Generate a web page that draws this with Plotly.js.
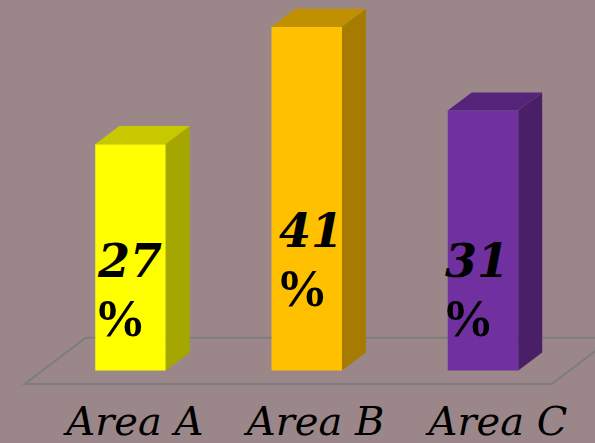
<!DOCTYPE html>
<html>
<head>
<meta charset="utf-8">
<script src="https://cdn.plot.ly/plotly-3.0.1.min.js"></script>
<style>html,body{margin:0;padding:0;background:#9b8789;overflow:hidden}</style>
</head>
<body>
<div id="chart" style="width:595px;height:443px"></div>
<script>
// Share of each area, in percent
const categories = ['Area A', 'Area B', 'Area C'];
const shares = [27, 41, 31];

// Face colours of each column: front, side, top
const frontColors = ['#ffff00', '#ffc000', '#7030a0'];
const sideColors = ['#a6a600', '#a67c00', '#491f68'];
const topColors = ['#c8c800', '#c09000', '#54247a'];

// Axis placement of the category labels and the value labels
const tickPositions = [0.025, 1.05, 2.085];
const labelLeft = [-0.2, 0.83, 1.775];
const numberHeights = [13.1, 16.7, 13.1];
const percentHeights = [6.2, 9.8, 6.2];

// Oblique projection used for the column depth
const barWidth = 0.4;
const depthX = 0.136;
const depthY = 2.15;

const sideFaces = shares.map((v, i) => {
  const r = i + barWidth / 2;
  return {
    type: 'scatter', mode: 'lines', fill: 'toself', hoverinfo: 'skip',
    fillcolor: sideColors[i], line: {width: 0},
    x: [r, r + depthX, r + depthX, r, r],
    y: [0, depthY, v + depthY, v, 0]
  };
});

const topFaces = shares.map((v, i) => {
  const l = i - barWidth / 2, r = i + barWidth / 2;
  return {
    type: 'scatter', mode: 'lines', fill: 'toself', hoverinfo: 'skip',
    fillcolor: topColors[i], line: {width: 0},
    x: [l, r, r + depthX, l + depthX, l],
    y: [v, v, v + depthY, v + depthY, v]
  };
});

const frontFaces = {
  type: 'bar',
  x: [0, 1, 2],
  y: shares,
  width: barWidth,
  marker: {color: frontColors, line: {width: 0}}
};

// Floor plate under the columns
const floorLeft = -0.6, floorRight = 2.39, floorFront = -1.6;
const floorDepthX = 0.346, floorDepthY = 5.5;
const floor = {
  type: 'path', layer: 'below', xref: 'x', yref: 'y',
  line: {color: '#7d7d7d', width: 2},
  path: `M ${floorLeft} ${floorFront} L ${floorRight} ${floorFront} ` +
        `L ${floorRight + floorDepthX} ${floorFront + floorDepthY} ` +
        `L ${floorLeft + floorDepthX} ${floorFront + floorDepthY} Z`
};

const valueLabels = shares.flatMap((v, i) => [
  {
    x: labelLeft[i], y: numberHeights[i], xref: 'x', yref: 'y',
    xanchor: 'left', yanchor: 'middle', showarrow: false,
    text: String(v),
    font: {family: '"DejaVu Serif", serif', size: 46, weight: 'bold', style: 'italic', color: '#000000'}
  },
  {
    x: labelLeft[i], y: percentHeights[i], xref: 'x', yref: 'y', xshift: -3,
    xanchor: 'left', yanchor: 'middle', showarrow: false,
    text: '%',
    font: {family: '"Liberation Serif", serif', size: 52, weight: 'bold', color: '#000000'}
  }
]);

Plotly.newPlot('chart', [frontFaces, ...sideFaces, ...topFaces], {
  width: 595,
  height: 443,
  margin: {l: 0, r: 0, t: 0, b: 49, pad: 0},
  paper_bgcolor: '#9b8789',
  plot_bgcolor: '#9b8789',
  showlegend: false,
  xaxis: {
    range: [-0.7404, 2.6355],
    tickmode: 'array',
    tickvals: tickPositions,
    ticktext: categories,
    ticklen: 0,
    showgrid: false,
    zeroline: false,
    showline: false,
    automargin: false,
    tickfont: {family: '"DejaVu Serif", serif', size: 40, style: 'italic', color: '#000000'}
  },
  yaxis: {
    range: [-2.8, 44.19],
    visible: false,
    showgrid: false,
    zeroline: false
  },
  shapes: [floor],
  annotations: valueLabels
}, {displayModeBar: false, staticPlot: true});
</script>
</body>
</html>
